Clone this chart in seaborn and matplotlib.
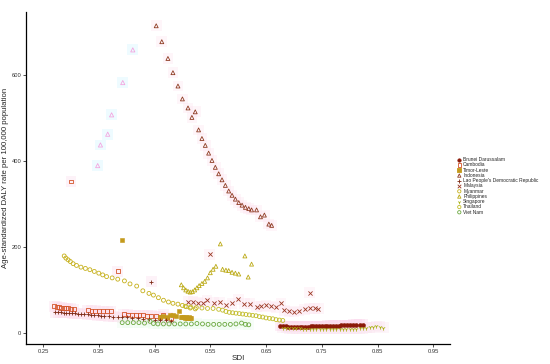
import matplotlib
matplotlib.use("Agg")
import matplotlib.pyplot as plt
import seaborn as sns
import pandas as pd

# ---------------- data ----------------
countries = ["Brunei Darussalam", "Cambodia", "Timor-Leste", "Indonesia",
             "Lao People's Democratic Republic", "Malaysia", "Myanmar",
             "Philippines", "Singapore", "Thailand", "Viet Nam"]

brunei_sdi = [0.675, 0.680, 0.685, 0.690, 0.695, 0.700, 0.705, 0.710, 0.715, 0.720,
              0.725, 0.730, 0.735, 0.740, 0.745, 0.750, 0.755, 0.760, 0.765, 0.770,
              0.775, 0.780, 0.785, 0.790, 0.795, 0.800, 0.806, 0.812, 0.818, 0.824]
brunei_rate = [16, 16, 16, 15, 15, 15, 15, 15, 15, 15, 15, 16, 16, 16, 16, 16, 16, 17, 17, 17,
               17, 17, 18, 18, 18, 18, 19, 19, 19, 19]

cambodia_sdi = [0.270, 0.275, 0.279, 0.283, 0.287, 0.291, 0.295, 0.300, 0.305,
                0.330, 0.337, 0.344, 0.351, 0.358, 0.365, 0.372,
                0.395, 0.402, 0.409, 0.416, 0.423, 0.430, 0.437, 0.444, 0.452,
                0.459, 0.466, 0.473, 0.480, 0.300, 0.384]
cambodia_rate = [62, 61, 60, 59, 58, 57, 57, 56, 55,
                 53, 52, 52, 51, 51, 50, 50,
                 44, 43, 42, 42, 41, 41, 40, 40, 39, 38, 43, 36, 35, 352, 143]

timor_sdi = [0.391, 0.460, 0.466, 0.472, 0.478, 0.483, 0.488, 0.494, 0.498, 0.500,
             0.502, 0.504, 0.506, 0.508, 0.510, 0.512, 0.514, 0.516]
timor_rate = [215, 38, 40, 37, 41, 42, 40, 50, 37, 36, 36, 35, 36, 35, 35, 36, 35, 35]

indonesia_sdi = [0.453, 0.463, 0.474, 0.483, 0.492, 0.500, 0.510, 0.517, 0.523, 0.529,
                 0.535, 0.541, 0.547, 0.553, 0.559, 0.565, 0.571, 0.577, 0.583, 0.589,
                 0.595, 0.601, 0.607, 0.613, 0.619, 0.624, 0.633, 0.640, 0.647, 0.655, 0.660]
indonesia_rate = [714, 677, 638, 605, 574, 544, 523, 501, 514, 472,
                  452, 436, 418, 401, 385, 370, 356, 343, 330, 320,
                  311, 303, 297, 292, 289, 286, 286, 270, 274, 253, 250]
indonesia_early_sdi = [0.348, 0.353, 0.366, 0.373, 0.393, 0.411]
indonesia_early_rate = [389, 437, 462, 507, 582, 658]

lao_sdi = [0.272, 0.277, 0.282, 0.287, 0.292, 0.297, 0.302, 0.307, 0.312, 0.318,
           0.324, 0.330, 0.336, 0.342, 0.348, 0.354, 0.360, 0.368, 0.376, 0.384,
           0.392, 0.400, 0.410, 0.420, 0.430, 0.440, 0.450, 0.460, 0.470, 0.480, 0.444]
lao_rate = [48, 48, 48, 47, 47, 47, 46, 46, 45, 45, 44, 43, 42, 42, 41, 40, 40, 39, 38, 37,
            36, 36, 35, 34, 33, 32, 31, 30, 29, 28, 119]

malaysia_sdi = [0.510, 0.519, 0.528, 0.537, 0.544, 0.556, 0.567, 0.578, 0.589, 0.600,
                0.611, 0.621, 0.633, 0.641, 0.650, 0.659, 0.668, 0.677, 0.683, 0.691,
                0.700, 0.709, 0.719, 0.728, 0.737, 0.744, 0.549, 0.728]
malaysia_rate = [73, 73, 70, 69, 76, 70, 71, 65, 69, 78, 68, 68, 61, 62, 64, 62, 60, 69, 53, 50,
                 49, 51, 55, 57, 57, 56, 183, 94]

myanmar_sdi = [0.288, 0.291, 0.295, 0.299, 0.304, 0.310, 0.318, 0.326, 0.334, 0.342,
               0.350, 0.357, 0.364, 0.374, 0.384, 0.396, 0.406, 0.418, 0.429, 0.440,
               0.448, 0.457, 0.466, 0.475, 0.483, 0.492, 0.500, 0.507, 0.514, 0.523]
myanmar_rate = [179, 174, 170, 166, 161, 157, 153, 150, 147, 143, 139, 135, 131, 128, 125,
                121, 114, 109, 98, 92, 88, 82, 76, 72, 69, 67, 64, 61, 58, 56]

philippines_sdi = [0.498, 0.502, 0.506, 0.510, 0.514, 0.518, 0.522, 0.526, 0.530, 0.535,
                   0.540, 0.545, 0.550, 0.555, 0.560, 0.568, 0.572, 0.578, 0.583, 0.589,
                   0.595, 0.601, 0.612, 0.618, 0.624]
philippines_rate = [112, 105, 100, 97, 95, 96, 100, 105, 110, 115, 120, 128, 140, 148, 155,
                    207, 148, 146, 145, 141, 139, 137, 179, 130, 160]

singapore_sdi = [0.680, 0.686, 0.692, 0.698, 0.704, 0.710, 0.716, 0.722, 0.728, 0.734,
                 0.740, 0.746, 0.752, 0.758, 0.764, 0.770, 0.776, 0.782, 0.788, 0.794,
                 0.800, 0.806, 0.812, 0.818, 0.824, 0.830, 0.836, 0.842, 0.848, 0.854, 0.860]
singapore_rate = [12, 12, 11, 11, 11, 11, 10, 10, 10, 10, 10, 10, 10, 10, 10, 10, 10, 10,
                  10, 10, 10, 10, 10, 11, 11, 12, 13, 13, 16, 15, 12]

thailand_sdi = [0.505, 0.515, 0.525, 0.535, 0.545, 0.555, 0.565, 0.572, 0.578, 0.584,
                0.590, 0.596, 0.602, 0.608, 0.614, 0.620, 0.626, 0.632, 0.638, 0.644,
                0.650, 0.656, 0.662, 0.668, 0.674, 0.680]
thailand_rate = [62, 60, 59, 58, 57, 57, 55, 53, 50, 48, 47, 46, 45, 44, 43, 42, 41, 40,
                 38, 37, 35, 34, 33, 31, 30, 29]

vietnam_sdi = [0.392, 0.402, 0.412, 0.422, 0.432, 0.442, 0.448, 0.456, 0.466, 0.476,
               0.486, 0.496, 0.506, 0.516, 0.526, 0.536, 0.546, 0.556, 0.566, 0.576,
               0.586, 0.596, 0.606, 0.613, 0.619]
vietnam_rate = [24, 24, 24, 24, 23, 27, 22, 21, 21, 21, 21, 21, 21, 21, 22, 21, 20, 20, 20,
                20, 20, 21, 23, 20, 19]

x_ticks = [0.25, 0.35, 0.45, 0.55, 0.65, 0.75, 0.85, 0.95]
y_ticks = [0, 200, 400, 600]

# ---------------- styles ----------------
series = {
    "Brunei Darussalam": (brunei_sdi, brunei_rate, "o", "#8b1a08", True),
    "Cambodia": (cambodia_sdi, cambodia_rate, "s", "#d4552a", False),
    "Timor-Leste": (timor_sdi, timor_rate, "s", "#c49a1c", True),
    "Indonesia": (indonesia_sdi, indonesia_rate, "^", "#8e3b22", False),
    "Lao People's Democratic Republic": (lao_sdi, lao_rate, "+", "#7e2a14", False),
    "Malaysia": (malaysia_sdi, malaysia_rate, "x", "#9a3520", False),
    "Myanmar": (myanmar_sdi, myanmar_rate, "o", "#c6b01a", False),
    "Philippines": (philippines_sdi, philippines_rate, "^", "#bba914", False),
    "Singapore": (singapore_sdi, singapore_rate, "1", "#a9b214", False),
    "Thailand": (thailand_sdi, thailand_rate, "o", "#c2bd2a", False),
    "Viet Nam": (vietnam_sdi, vietnam_rate, "o", "#6aa83e", False),
}
halo = {
    "Brunei Darussalam": "#fbd3ea", "Cambodia": "#fcdcec",
    "Lao People's Democratic Republic": "#fcdcec", "Malaysia": "#fde3f0",
    "Indonesia": "#fde3f0", "Viet Nam": "#e9fbec", "Singapore": "#fbe3f0",
}

sns.set_theme(style="ticks")
plt.rcParams["font.family"] = ["Liberation Sans", "DejaVu Sans"]

fig = plt.figure(figsize=(5.5, 3.64), dpi=100)
ax = fig.add_axes([0.0473, 0.055, 0.771, 0.912])

# soft halo layer
for name, col in halo.items():
    xs, ys = series[name][0], series[name][1]
    sns.scatterplot(x=xs, y=ys, ax=ax, marker="s", s=60, color=col,
                    edgecolor="none", alpha=0.35, zorder=1, legend=False)
sns.scatterplot(x=indonesia_early_sdi, y=indonesia_early_rate, ax=ax, marker="s", s=60,
                color="#dff8ff", edgecolor="none", alpha=0.5, zorder=1, legend=False)
sns.scatterplot(x=indonesia_early_sdi, y=indonesia_early_rate, ax=ax, marker="^", s=9,
                color="#f3a6e0", facecolor="none", edgecolor="#f3a6e0", linewidth=0.6,
                zorder=3, legend=False)

handles = []
for name in countries:
    xs, ys, mk, col, filled = series[name]
    kw = dict(ax=ax, marker=mk, color=col, zorder=3, legend=False)
    if mk in ("+", "x", "1"):
        kw.update(s=9, linewidth=0.6)
    elif filled:
        kw.update(s=8, edgecolor=col, linewidth=0.4)
    else:
        kw.update(s=8, facecolor="none", edgecolor=col, linewidth=0.6)
    sns.scatterplot(x=xs, y=ys, **kw)
    h = ax.scatter([], [], marker=mk, s=kw["s"] * 0.7,
                   facecolor=(col if (filled or mk in ("+", "x", "1")) else "none"),
                   edgecolor=col, linewidth=0.6)
    handles.append(h)

ax.set_xlim(0.2195, 0.98)
ax.set_ylim(-25.6, 746)
ax.set_xticks(x_ticks)
ax.set_xticklabels([f"{t:.2f}" for t in x_ticks])
ax.set_yticks(y_ticks)
ax.tick_params(labelsize=4.2, length=2, width=0.6, pad=1.5, colors="#333333")
for sp in ["top", "right"]:
    ax.spines[sp].set_visible(False)
for sp in ["left", "bottom"]:
    ax.spines[sp].set_linewidth(0.9)
    ax.spines[sp].set_color("black")
ax.set_xlabel("SDI", fontsize=5.8, labelpad=1)
ax.set_ylabel("Age-standardized DALY rate per 100,000 population", fontsize=5.6, labelpad=2)

leg = fig.legend(handles, countries, loc="upper left", bbox_to_anchor=(0.828, 0.575),
                 frameon=False, fontsize=3.5, labelspacing=0.05, handlelength=0.6,
                 handletextpad=0.5, borderpad=0, markerscale=1.0)

fig.savefig("out.png", dpi=100)
